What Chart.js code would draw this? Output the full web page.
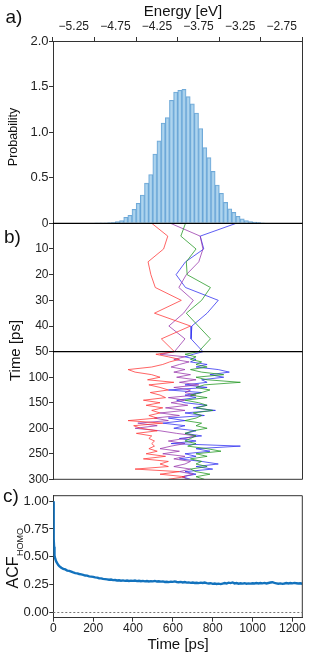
<!DOCTYPE html>
<html>
<head>
<meta charset="utf-8">
<script src="https://cdn.jsdelivr.net/npm/chart.js@4.4.1/dist/chart.umd.min.js"></script>
<style>
  html, body { margin: 0; padding: 0; background: #fff; }
  #wrap { position: relative; width: 320px; height: 657px; overflow: hidden; }
  canvas { position: absolute; left: 0; }
</style>
</head>
<body>
<div id="wrap">
  <canvas id="top" width="320" height="490" style="top:0;width:320px;height:490px"></canvas>
  <canvas id="acf" width="320" height="177" style="top:480px;width:320px;height:177px"></canvas>
</div>
<script>
// a) energy histogram, bins of 0.05 eV
const binCenter = [
  -4.975, -4.925, -4.875, -4.825, -4.775, -4.725, -4.675, -4.625, -4.575, -4.525,
  -4.475, -4.425, -4.375, -4.325, -4.275, -4.225, -4.175, -4.125, -4.075, -4.025,
  -3.975, -3.925, -3.875, -3.825, -3.775, -3.725, -3.675, -3.625, -3.575, -3.525,
  -3.475, -3.425, -3.375, -3.325, -3.275, -3.225, -3.175, -3.125, -3.075, -3.025,
  -2.975
];
const probability = [
  0.002, 0.003, 0.005, 0.008, 0.012, 0.02, 0.03, 0.066, 0.088, 0.154,
  0.22, 0.31, 0.44, 0.535, 0.76, 0.905, 1.10, 1.16, 1.35, 1.44,
  1.46, 1.47, 1.39, 1.31, 1.21, 1.04, 0.83, 0.72, 0.57, 0.42,
  0.33, 0.23, 0.16, 0.12, 0.077, 0.05, 0.03, 0.02, 0.013, 0.01,
  0.005
];

// b) HOMO energy of four molecules vs time
const tTop = [0, 5, 10, 15, 20, 25, 30, 35, 40, 45, 50];
const redTop    = [-4.313, -4.12, -4.17, -4.357, -4.323, -4.27, -3.957, -4.28, -3.847, -4.197, -4.04];
const greenTop  = [-3.907, -3.963, -3.78, -3.897, -3.887, -3.607, -3.713, -3.897, -3.753, -3.607, -3.75];
const purpleTop = [-4.087, -3.73, -3.697, -3.747, -3.897, -3.987, -3.813, -3.93, -4.107, -3.913, -4.04];
const blueTop   = [-3.297, -3.73, -3.687, -3.907, -4.02, -3.907, -3.513, -3.647, -3.83, -3.84, -3.697];

const tBottom = [
  50, 55, 60, 65, 70, 75, 80, 85, 90, 95,
  100, 105, 110, 115, 120, 125, 130, 135, 140, 145,
  150, 155, 160, 165, 170, 175, 180, 185, 190, 195,
  200, 205, 210, 215, 220, 225, 230, 235, 240, 245,
  250, 255, 260, 265, 270, 275, 280, 285, 290, 295,
  300
];
const redBottom = [
  -4.04, -4.263, -4.113, -3.98, -4.097, -4.18, -4.313, -4.597, -4.513, -4.313,
  -4.213, -4.363, -4.047, -4.347, -4.213, -4.113, -4.33, -4.213, -4.147, -4.413,
  -4.213, -4.38, -4.18, -4.313, -4.213, -4.347, -4.247, -4.597, -4.18, -4.53,
  -4.447, -4.247, -4.497, -4.313, -4.347, -4.28, -4.313, -4.28, -4.347, -4.247,
  -4.38, -4.147, -4.413, -4.113, -4.213, -4.113, -4.513, -3.98, -4.213, -3.913,
  -4.113
];
const greenBottom = [
  -3.75, -3.913, -3.78, -3.847, -3.713, -3.78, -3.647, -3.847, -3.713, -3.447,
  -3.78, -3.647, -3.247, -3.68, -3.78, -3.613, -3.713, -3.847, -3.647, -3.913,
  -3.747, -3.647, -3.78, -3.58, -3.813, -3.713, -3.78, -3.913, -3.713, -3.78,
  -3.647, -3.813, -3.913, -3.78, -3.847, -3.913, -3.78, -3.88, -3.647, -3.48,
  -3.78, -3.647, -3.847, -3.713, -3.78, -3.647, -3.847, -3.78, -3.613, -3.78,
  -3.68
];
const purpleBottom = [
  -4.04, -4.213, -3.913, -4.047, -3.863, -3.98, -4.08, -3.913, -4.047, -3.847,
  -4.013, -3.78, -3.98, -3.747, -4.047, -3.847, -3.913, -3.78, -4.113, -3.913,
  -4.08, -3.88, -4.147, -3.913, -4.213, -3.98, -4.28, -4.113, -4.48, -4.247,
  -4.513, -4.213, -4.013, -3.78, -3.913, -4.113, -3.913, -4.08, -4.213, -3.98,
  -4.18, -3.913, -4.047, -3.847, -3.913, -4.047, -3.847, -3.98, -3.813, -3.947,
  -3.88
];
const blueBottom = [
  -3.697, -3.813, -3.913, -3.78, -3.847, -3.647, -3.78, -3.513, -3.38, -3.613,
  -3.447, -3.713, -3.647, -3.913, -3.647, -4.113, -3.713, -3.913, -3.78, -4.013,
  -3.913, -3.647, -3.813, -3.547, -3.913, -3.68, -4.113, -3.913, -4.18, -3.913,
  -4.047, -3.78, -3.913, -3.713, -3.98, -3.78, -4.08, -3.247, -3.78, -3.613,
  -3.913, -3.78, -3.98, -3.713, -3.513, -3.78, -3.58, -3.913, -3.78, -3.947,
  -3.847
];

// c) autocorrelation of the HOMO energy
const acfTime = [
  0, 1, 2, 3, 4, 5, 7, 10, 15, 20, 25, 30,
  40, 50, 60, 70, 80, 90, 100, 110, 120, 130,
  140, 150, 160, 170, 180, 190, 200, 210, 220, 230,
  240, 250, 260, 270, 280, 290, 300, 310, 320, 330,
  340, 350, 360, 370, 380, 390, 400, 410, 420, 430,
  440, 450, 460, 470, 480, 490, 500, 510, 520, 530,
  540, 550, 560, 570, 580, 590, 600, 610, 620, 630,
  640, 650, 660, 670, 680, 690, 700, 710, 720, 730,
  740, 750, 760, 770, 780, 790, 800, 810, 820, 830,
  840, 850, 860, 870, 880, 890, 900, 910, 920, 930,
  940, 950, 960, 970, 980, 990, 1000, 1010, 1020, 1030,
  1040, 1050, 1060, 1070, 1080, 1090, 1100, 1110, 1120, 1130,
  1140, 1150, 1160, 1170, 1180, 1190, 1200, 1210, 1220, 1230,
  1240, 1250
];
const acfValue = [
  1.00, 0.88, 0.76, 0.66, 0.59, 0.55, 0.51, 0.48, 0.455, 0.44, 0.425, 0.415,
  0.400, 0.390, 0.385, 0.375, 0.372, 0.365, 0.358, 0.352, 0.350, 0.344,
  0.340, 0.336, 0.330, 0.329, 0.322, 0.320, 0.318, 0.313, 0.311, 0.306,
  0.305, 0.300, 0.298, 0.296, 0.292, 0.294, 0.289, 0.290, 0.286, 0.287,
  0.283, 0.286, 0.282, 0.285, 0.281, 0.284, 0.282, 0.285, 0.280, 0.283,
  0.279, 0.282, 0.278, 0.281, 0.277, 0.280, 0.278, 0.282, 0.276, 0.279,
  0.275, 0.277, 0.272, 0.274, 0.271, 0.275, 0.273, 0.277, 0.272, 0.270,
  0.273, 0.268, 0.271, 0.266, 0.268, 0.264, 0.267, 0.263, 0.265, 0.262,
  0.266, 0.263, 0.267, 0.262, 0.258, 0.261, 0.255, 0.258, 0.254, 0.257,
  0.253, 0.258, 0.262, 0.258, 0.266, 0.262, 0.268, 0.259, 0.262, 0.256,
  0.260, 0.257, 0.261, 0.256, 0.259, 0.257, 0.261, 0.258, 0.262, 0.259,
  0.263, 0.260, 0.264, 0.259, 0.263, 0.267, 0.270, 0.264, 0.260, 0.256,
  0.259, 0.255, 0.258, 0.262, 0.259, 0.263, 0.260, 0.264, 0.261, 0.258,
  0.260, 0.256
];

const FONT = '"Liberation Sans", Arial, Helvetica, sans-serif';
const INK = '#333';

Chart.defaults.font.family = FONT;
Chart.defaults.font.size = 12;
Chart.defaults.color = '#222';
Chart.defaults.animation = false;

// force axis box sizes so the plot areas line up with the figure
function fixBox(size, horizontal) {
    return function(s) {
        if (horizontal) s.height = size; else s.width = size;
        s.paddingTop = s.paddingBottom = s.paddingLeft = s.paddingRight = 0;
    };
}

function label(ctx, str, x, y, size, rot) {
    ctx.save();
    ctx.translate(x, y);
    if (rot) ctx.rotate(rot);
    ctx.font = size + 'px ' + FONT;
    ctx.fillStyle = '#111';
    ctx.textAlign = 'center';
    ctx.textBaseline = 'middle';
    ctx.fillText(str, 0, 0);
    ctx.restore();
}

const pts = (xs, ys) => xs.map((x, i) => ({x: x, y: ys[i]}));
const trace = (name, color, xs, ys, axis) => ({
    type: 'line', label: name, data: pts(xs, ys), yAxisID: axis,
    borderColor: color, borderWidth: 1, pointRadius: 0, tension: 0
});
const eLabel = v => (v < 0 ? '\u2212' : '') + Math.abs(v).toFixed(2);
const tickGrid = {drawOnChartArea: false, tickLength: 4, color: INK};

const RED = 'rgba(255, 50, 50, 0.75)';
const GREEN = 'rgba(30, 150, 30, 0.75)';
const PURPLE = 'rgba(150, 50, 170, 0.75)';
const BLUE = 'rgba(40, 40, 240, 0.75)';

const frameTop = {
    id: 'frameTop',
    afterDraw(chart) {
        const {ctx, chartArea: a, scales} = chart;
        ctx.save();
        ctx.strokeStyle = INK;
        ctx.lineWidth = 1;
        ctx.beginPath();
        ctx.moveTo(a.right, a.top); ctx.lineTo(a.right, a.bottom);
        ctx.moveTo(a.left, a.bottom); ctx.lineTo(a.right, a.bottom);
        ctx.stroke();
        ctx.strokeStyle = '#000';
        ctx.lineWidth = 1.3;
        ctx.beginPath();
        [0, 50].forEach(t => {
            const y = scales.yt1.getPixelForValue(t);
            ctx.moveTo(a.left, y); ctx.lineTo(a.right, y);
        });
        ctx.stroke();
        ctx.restore();

        label(ctx, 'a)', 14, 18, 19);
        label(ctx, 'b)', 12.5, 238, 19);
        label(ctx, 'Energy [eV]', 183, 12, 15);
        label(ctx, 'Probability', 14, 137, 12.5, -Math.PI / 2);
        label(ctx, 'Time [ps]', 16, 350.5, 15, -Math.PI / 2);
    }
};

new Chart(document.getElementById('top'), {
    type: 'bar',
    data: {
        datasets: [
            {
                label: 'Probability', data: pts(binCenter, probability), yAxisID: 'yp',
                backgroundColor: 'rgba(160, 205, 235, 0.85)',
                borderColor: 'rgba(95, 160, 212, 0.9)',
                borderWidth: 1, barPercentage: 1, categoryPercentage: 1
            },
            trace('red', RED, redTop, tTop, 'yt1'),
            trace('green', GREEN, greenTop, tTop, 'yt1'),
            trace('purple', PURPLE, purpleTop, tTop, 'yt1'),
            trace('blue', BLUE, blueTop, tTop, 'yt1'),
            trace('red', RED, redBottom, tBottom, 'yt2'),
            trace('green', GREEN, greenBottom, tBottom, 'yt2'),
            trace('purple', PURPLE, purpleBottom, tBottom, 'yt2'),
            trace('blue', BLUE, blueBottom, tBottom, 'yt2')
        ]
    },
    options: {
        responsive: false,
        events: [],
        layout: {padding: {left: 0, top: 0, right: 17.5, bottom: 10.7}},
        plugins: {legend: {display: false}, tooltip: {enabled: false}},
        scales: {
            x: {
                type: 'linear', position: 'top', min: -5.25, max: -2.75,
                ticks: {stepSize: 0.5, padding: 3, maxRotation: 0, autoSkip: false, callback: eLabel},
                grid: tickGrid, border: {color: INK},
                afterFit: fixBox(41, true)
            },
            yp: {
                type: 'linear', position: 'left', stack: 'b', stackWeight: 182.3, weight: 3,
                min: 0, max: 2,
                ticks: {stepSize: 0.5, padding: 0.5, autoSkip: false, font: {size: 13},
                        callback: v => v === 0 ? '' : v.toFixed(1)},
                grid: tickGrid, border: {color: INK},
                afterFit: fixBox(53)
            },
            yt1: {
                type: 'linear', position: 'left', stack: 'b', stackWeight: 128.4, weight: 2,
                min: 0, max: 50, reverse: true,
                ticks: {stepSize: 10, padding: 0.5, autoSkip: false, callback: v => String(v)},
                grid: tickGrid, border: {color: INK},
                afterFit: fixBox(53)
            },
            yt2: {
                type: 'linear', position: 'left', stack: 'b', stackWeight: 127.6, weight: 1,
                min: 50, max: 300, reverse: true,
                ticks: {stepSize: 50, padding: 0.5, autoSkip: false, callback: v => v === 50 ? '' : String(v)},
                grid: tickGrid, border: {color: INK},
                afterFit: fixBox(53)
            }
        }
    },
    plugins: [frameTop]
});

const frameAcf = {
    id: 'frameAcf',
    afterDraw(chart) {
        const {ctx, chartArea: a, scales} = chart;
        ctx.save();
        ctx.strokeStyle = INK;
        ctx.lineWidth = 1;
        ctx.beginPath();
        ctx.moveTo(a.left, a.top); ctx.lineTo(a.right, a.top);
        ctx.moveTo(a.right, a.top); ctx.lineTo(a.right, a.bottom);
        ctx.stroke();
        const y0 = Math.round(scales.y.getPixelForValue(0)) + 0.5;
        ctx.strokeStyle = '#777';
        ctx.setLineDash([2, 2]);
        ctx.beginPath();
        ctx.moveTo(a.left, y0); ctx.lineTo(a.right, y0);
        ctx.stroke();
        ctx.restore();

        label(ctx, 'c)', 11, 17, 19);
        label(ctx, 'Time [ps]', 178, 165, 15);

        // y title with subscript
        ctx.save();
        ctx.translate(12.5, 78.5);
        ctx.rotate(-Math.PI / 2);
        ctx.fillStyle = '#111';
        ctx.textAlign = 'left';
        ctx.textBaseline = 'alphabetic';
        ctx.font = '16px ' + FONT;
        const w1 = ctx.measureText('ACF').width;
        ctx.font = '9px ' + FONT;
        const w2 = ctx.measureText('HOMO').width;
        const x0 = -(w1 + w2) / 2;
        ctx.font = '16px ' + FONT;
        ctx.fillText('ACF', x0, 5.8);
        ctx.font = '9px ' + FONT;
        ctx.fillText('HOMO', x0 + w1 + 0.5, 10.2);
        ctx.restore();
    }
};

new Chart(document.getElementById('acf'), {
    type: 'line',
    data: {
        datasets: [{
            label: 'ACF', data: pts(acfTime, acfValue),
            borderColor: '#1272bd', borderWidth: 2.4, pointRadius: 0, tension: 0
        }]
    },
    options: {
        responsive: false,
        events: [],
        layout: {padding: {left: 0, top: 15.7, right: 17.7, bottom: 0}},
        plugins: {legend: {display: false}, tooltip: {enabled: false}},
        scales: {
            x: {
                type: 'linear', min: 0, max: 1250,
                ticks: {stepSize: 200, includeBounds: false, padding: 0, maxRotation: 0, autoSkip: false,
                        callback: v => String(v)},
                grid: tickGrid, border: {color: INK},
                afterFit: fixBox(39.3, true)
            },
            y: {
                type: 'linear', min: -0.05, max: 1.05,
                ticks: {stepSize: 0.25, includeBounds: false, padding: 0.5, autoSkip: false, font: {size: 13},
                        callback: v => v.toFixed(2)},
                grid: tickGrid, border: {color: INK},
                afterFit: fixBox(53.3)
            }
        }
    },
    plugins: [frameAcf]
});
</script>
</body>
</html>
